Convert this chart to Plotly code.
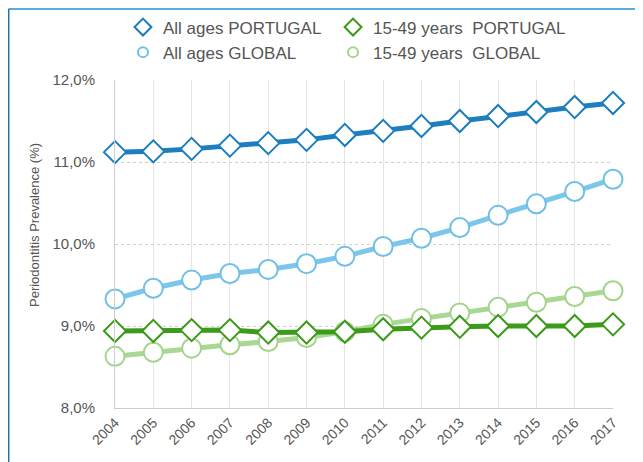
import plotly.graph_objects as go

years = list(range(2004, 2018))
all_portugal = [11.12, 11.13, 11.16, 11.20, 11.23, 11.27, 11.33, 11.38, 11.44, 11.50, 11.56, 11.61, 11.67, 11.72]
all_global = [9.33, 9.46, 9.56, 9.64, 9.69, 9.76, 9.85, 9.97, 10.07, 10.20, 10.35, 10.49, 10.64, 10.79]
y1549_portugal = [8.94, 8.94, 8.95, 8.95, 8.92, 8.92, 8.93, 8.96, 8.98, 8.99, 9.00, 9.00, 9.00, 9.02]
y1549_global = [8.63, 8.68, 8.73, 8.77, 8.81, 8.86, 8.93, 9.02, 9.09, 9.16, 9.23, 9.29, 9.36, 9.43]
y_ticks = [8, 9, 10, 11, 12]

series = [
    # name, data, line colour, marker line colour, symbol, size, legend, rank
    ("15-49 years  GLOBAL", y1549_global, "#a8d893", "#a3d48c", "circle", 19, "legend2", 2),
    ("All ages GLOBAL", all_global, "#7cc6ec", "#72bfe6", "circle", 19, "legend", 2),
    ("15-49 years  PORTUGAL", y1549_portugal, "#3d9b1c", "#3a9a17", "diamond", 17, "legend2", 1),
    ("All ages PORTUGAL", all_portugal, "#1d7fbf", "#1a7dbd", "diamond", 17, "legend", 1),
]

fig = go.Figure()
for name, data, lc, mc, sym, size, leg, rank in series:
    fig.add_trace(go.Scatter(
        x=years, y=data, mode="lines+markers", name=name, showlegend=False,
        line=dict(color=lc, width=5),
        marker=dict(symbol=sym, size=size, color="white", line=dict(color=mc, width=2)),
        cliponaxis=False,
    ))
for name, data, lc, mc, sym, size, leg, rank in series:
    fig.add_trace(go.Scatter(
        x=[None], y=[None], mode="markers", name=name, legend=leg, legendrank=rank,
        marker=dict(symbol=sym + "-open", size=13 if sym == "diamond" else 10,
                    color=mc, line=dict(color=mc, width=2)),
    ))

legend_common = dict(
    orientation="v", xanchor="left", y=1.215, yanchor="top",
    font=dict(size=17, color="#555555"), tracegroupgap=0,
    bgcolor="rgba(0,0,0,0)", traceorder="normal",
)

fig.update_layout(
    width=643, height=462,
    margin=dict(l=107, r=38, t=72, b=62, autoexpand=False),
    paper_bgcolor="white", plot_bgcolor="white",
    separators=",.",
    font=dict(family="Liberation Sans, Arial, sans-serif", size=13, color="#555555"),
    legend=dict(x=0.016, **legend_common),
    legend2=dict(x=0.4378, **legend_common),
    showlegend=True,
    xaxis=dict(
        range=[2004, 2017], tickmode="array", tickvals=years,
        ticktext=[str(y) for y in years], tickangle=-45,
        showgrid=True, gridcolor="#e6e6e6", gridwidth=1,
        showline=True, linecolor="#cccccc", linewidth=1,
        zeroline=False, ticks="", tickfont=dict(size=14, color="#555555"),
        automargin=False,
    ),
    yaxis=dict(
        range=[8, 12], tickmode="array", tickvals=y_ticks,
        ticktext=[f"{v},0%" for v in y_ticks],
        showgrid=True, gridcolor="#cfcfcf", griddash="dot", gridwidth=1,
        showline=True, linecolor="#cccccc", linewidth=1,
        zeroline=False, ticks="", ticklabelstandoff=16,
        tickfont=dict(size=15, color="#555555"), automargin=False,
    ),
    annotations=[
        dict(text="Periodontitis Prevalence (%)", xref="paper", yref="paper",
             x=-0.1606, y=0.558, xanchor="center", yanchor="middle", textangle=-90,
             showarrow=False, font=dict(size=13, color="#555555")),
    ],
    shapes=[
        dict(type="line", xref="paper", yref="paper", x0=-0.2139, x1=1.2, y0=1.2165, y1=1.2165,
             line=dict(color="#5aaadc", width=2)),
        dict(type="line", xref="paper", yref="paper", x0=-0.2139, x1=-0.2139, y0=1.2165, y1=-0.25,
             line=dict(color="#2a70aa", width=2)),
    ],
)

fig.write_html("out.html")
